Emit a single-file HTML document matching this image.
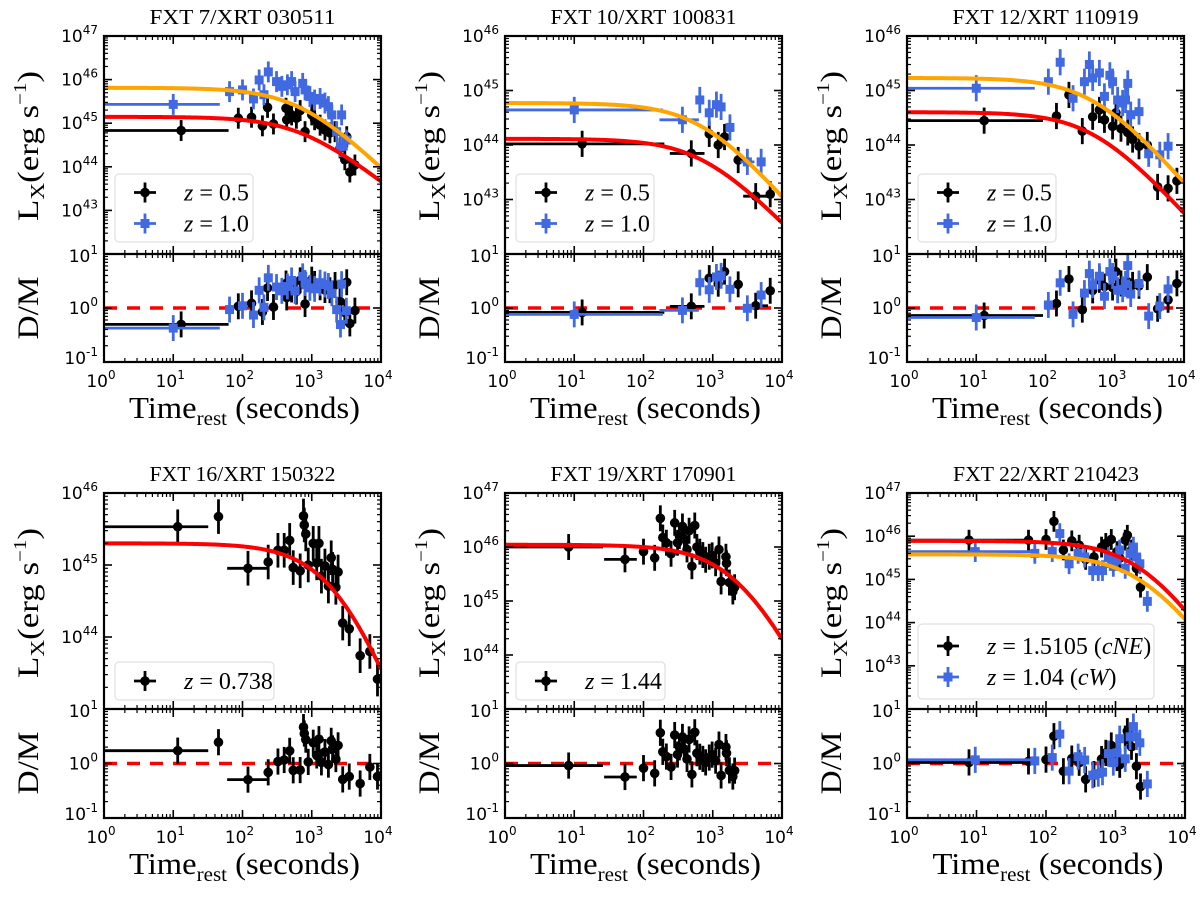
<!DOCTYPE html>
<html><head><meta charset="utf-8"><style>
html,body{margin:0;padding:0;background:#fff}
svg{display:block}
</style></head><body>
<svg id="fig" width="1200" height="901" viewBox="0 0 1200 901" xmlns="http://www.w3.org/2000/svg"></svg>
<script>
// ---------- data ----------
const xTickExp=[0,1,2,3,4];
const resTickExp=[1,0,-1];
const p1Title="FXT 7/XRT 030511";
const p1BlkT=[13,87,135,194,230,280,425,435,512,600,680,800,1000,1100,1320,1550,1830,2170,2560,3000,3550,4200,3200];
const p1BlkL=[6.8e44,1.3e45,1.37e45,8.7e44,2.3e45,9.6e44,2.2e45,1.2e45,1.55e45,1.3e45,1.95e45,6.4e44,1.55e45,1.2e45,9e44,7e44,6e44,6.4e44,2.7e44,1.45e44,7.6e43,1.1e44,4.9e44];
const p1BlkBars=[[0,1,63]];
const p1BluT=[10,65,100,144,174,236,204,310,370,445,512,575,740,800,940,1100,1320,1550,1740,1950,2290,2700,3160,2600];
const p1BluL=[2.7e45,5.3e45,5.8e45,3.6e45,9.8e45,1.5e46,4.5e45,9e45,7e45,7.6e45,9e45,5.3e45,8.2e45,5.8e45,4.1e45,3.4e45,3.7e45,2.9e45,2.4e45,1.55e45,6.4e44,1.55e45,4.1e44,2.9e44];
const p1BluBars=[[0,1,47]];

const p2Title="FXT 10/XRT 100831";
const p2BlkT=[13,490,890,1200,1480,2330,4170,6760];
const p2BlkL=[1.05e44,7e43,1.6e44,1e44,1.4e44,5.3e43,1.15e43,1.25e43];
const p2BlkBars=[[0,1,200],[1,240,760],[6,2750,6300]];
const p2BluT=[10,365,650,890,1130,1320,1770,3160,5000];
const p2BluL=[4.4e44,2.9e44,6.7e44,3.9e44,5.5e44,5e44,2.1e44,4.9e43,4.9e43];
const p2BluBars=[[0,1,190],[1,170,630],[7,2500,4000]];

const p3Title="FXT 12/XRT 110919";
const p3BlkT=[13,144,218,340,480,600,710,930,1040,1230,1540,1810,2240,2950,4160,5890,7900];
const p3BlkL=[2.8e44,3.4e44,8.3e44,1.8e44,3.3e44,4.4e44,2.9e44,2.2e44,3.9e44,2e44,1.7e44,1.26e44,9.5e43,1e44,1.7e43,1.6e43,2.2e43];
const p3BlkBars=[[0,1,92]];
const p3BluT=[10,110,163,250,365,430,480,600,710,850,930,1100,1300,1540,1430,1700,2240,3090,4470,5890];
const p3BluL=[1.1e45,1.45e45,3.3e45,7.2e44,1.45e45,3e45,1.7e45,2.1e45,7.8e44,1.9e45,1.45e45,6.7e44,5.9e44,1.35e45,6.7e44,3.6e44,4.1e44,6.9e43,6.6e43,9.5e43];
const p3BluBars=[[0,1,70]];

const p4Title="FXT 16/XRT 150322";
const p4BlkT=[11.6,45,120,235,325,400,480,540,680,760,780,820,890,1050,1180,1270,1380,1550,1740,1910,2000,2230,2400,2800,3480,5000,6900,8900];
const p4BlkL=[3.4e45,4.7e45,9e44,1.1e45,1.6e45,1.6e45,2.2e45,9.2e44,8.3e44,4.8e45,3.6e45,2.7e45,1e45,2e45,1.07e45,2e45,7e44,9.7e44,5.1e44,1.26e45,8.7e44,4.9e44,8e44,1.56e44,1.3e44,5.5e43,6.3e43,2.6e43];
const p4BlkBars=[[0,1,32],[2,60,240]];

const p5Title="FXT 19/XRT 170901";
const p5BlkT=[8.3,54,100,145,175,190,214,250,282,310,330,365,390,425,455,500,550,590,650,720,790,890,980,1100,1230,1320,1550,1580,1740,1950,2070];
const p5BlkL=[1e46,5.9e45,8.2e45,6.3e45,3.4e46,1.5e46,1.2e46,7.5e45,2.8e46,1.2e46,1.6e46,2.4e46,1.4e46,9e45,2e46,4.4e45,2.5e46,1e46,8.2e45,7.1e45,5.8e45,6.6e45,7e45,5e45,9e45,2.3e45,6.6e45,5e45,2.2e45,1.5e45,1.8e45];
const p5BlkBars=[[0,1,26],[1,27,80]];

const p6Title="FXT 22/XRT 210423";
const p6BlkT=[7.8,56,100,130,178,235,300,372,490,630,725,870,1050,1150,1380,1480,1700,2000,2290];
const p6BlkL=[8.1e45,8.1e45,8.4e45,2.2e46,4.8e45,7.8e45,6.2e45,2.9e45,3.3e45,5.6e45,6.8e45,8.4e45,4.4e45,3.1e45,8.1e45,1.05e46,4.8e45,1.8e45,6.6e44];
const p6BlkBars=[[0,1,50]];
const p6BluT=[9.6,69,123,158,215,290,360,470,565,650,790,930,1050,1150,1380,1620,1810,2000,2240,2870];
const p6BluL=[4.4e45,4e45,4.4e45,1.15e46,2.3e45,4e45,3.3e45,1.6e45,1.6e45,1.6e45,3.2e45,2e45,2.8e45,4.8e45,1.8e45,4e45,5.6e45,3.3e45,2.3e45,3.1e44];
const p6BluBars=[[0,1,60]];

// ---------- styles ----------
const BLACK="#000000", BLUE="#4169e1", RED="#ff0000", ORANGE="#ffa500";
const NS="http://www.w3.org/2000/svg";
const svg=document.getElementById('fig');
function mk(tag,attrs,parent){const e=document.createElementNS(NS,tag);for(const k in attrs)e.setAttribute(k,attrs[k]);(parent||svg).appendChild(e);return e;}

const panels=[
 {title:p1Title,x0:104,x1:381,yt:36,yb:254,rb:362,ymin:42,ymax:47,
  series:[{t:p1BlkT,L:p1BlkL,bars:p1BlkBars,color:BLACK,mk:'c',fit:{L0:1.4e45,tb:700,a:1.25,c:RED},label:'0.5'},
          {t:p1BluT,L:p1BluL,bars:p1BluBars,color:BLUE,mk:'s',fit:{L0:6.5e45,tb:700,a:1.55,c:ORANGE},label:'1.0'}],
  legend:{x:115,y:174,w:138,h:68}},
 {title:p2Title,x0:505,x1:782,yt:36,yb:254,rb:362,ymin:42,ymax:46,
  series:[{t:p2BlkT,L:p2BlkL,bars:p2BlkBars,color:BLACK,mk:'c',fit:{L0:1.3e44,tb:700,a:1.3,c:RED},label:'0.5'},
          {t:p2BluT,L:p2BluL,bars:p2BluBars,color:BLUE,mk:'s',fit:{L0:5.9e44,tb:700,a:1.45,c:ORANGE},label:'1.0'}],
  legend:{x:516,y:174,w:138,h:68}},
 {title:p3Title,x0:907,x1:1184,yt:36,yb:254,rb:362,ymin:42,ymax:46,
  series:[{t:p3BlkT,L:p3BlkL,bars:p3BlkBars,color:BLACK,mk:'c',fit:{L0:4e44,tb:500,a:1.4,c:RED},label:'0.5'},
          {t:p3BluT,L:p3BluL,bars:p3BluBars,color:BLUE,mk:'s',fit:{L0:1.7e45,tb:500,a:1.45,c:ORANGE},label:'1.0'}],
  legend:{x:918,y:174,w:138,h:68}},
 {title:p4Title,x0:104,x1:381,yt:493,yb:709,rb:818,ymin:43,ymax:46,
  series:[{t:p4BlkT,L:p4BlkL,bars:p4BlkBars,color:BLACK,mk:'c',fit:{L0:2e45,tb:2500,a:2.5,c:RED},label:'0.738'}],
  legend:{x:115,y:662,w:159,h:38}},
 {title:p5Title,x0:505,x1:782,yt:493,yb:709,rb:818,ymin:43,ymax:47,
  series:[{t:p5BlkT,L:p5BlkL,bars:p5BlkBars,color:BLACK,mk:'c',fit:{L0:1.1e46,tb:2500,a:2.5,c:RED},label:'1.44'}],
  legend:{x:516,y:662,w:149,h:38}},
 {title:p6Title,x0:907,x1:1185,yt:493,yb:709,rb:818,ymin:42,ymax:47,
  series:[{t:p6BlkT,L:p6BlkL,bars:p6BlkBars,color:BLACK,mk:'c',fit:{L0:7.8e45,tb:2500,a:2.3,c:RED},label:'1.5105',tag:'cNE'},
          {t:p6BluT,L:p6BluL,bars:p6BluBars,color:BLUE,mk:'s',fit:{L0:3.8e45,tb:2500,a:2.15,c:ORANGE},label:'1.04',tag:'cW'}],
  legend:{x:918,y:624,w:236,h:75}}
];

function model(f,t){return f.L0*Math.pow(1+t/f.tb,-f.a);}

panels.forEach((p,pi)=>{
 const g=mk('g',{});
 
 
 const xS=t=>p.x0+Math.log10(t)/4*(p.x1-p.x0);
 const yS=L=>p.yb-(Math.log10(L)-p.ymin)/(p.ymax-p.ymin)*(p.yb-p.yt);
 const rS=r=>p.rb-(Math.log10(r)+1)/2*(p.rb-p.yb);
 const W=p.x1-p.x0, cx=(p.x0+p.x1)/2;
 const cm=mk('clipPath',{id:'cm'+pi},g); mk('rect',{x:p.x0,y:p.yt,width:W,height:p.yb-p.yt},cm);
 const cr=mk('clipPath',{id:'cr'+pi},g); mk('rect',{x:p.x0,y:p.yb,width:W,height:p.rb-p.yb},cr);
 const ti=mk('text',{x:cx,y:p.yt-12,'text-anchor':'middle','font-family':'Liberation Serif, serif','font-size':21,textLength:186,lengthAdjust:'spacingAndGlyphs'},g);
 ti.textContent=p.title;
 
 
 const dl=mk('line',{x1:p.x0,x2:p.x1,y1:rS(1),y2:rS(1),stroke:RED,'stroke-width':3.5,'stroke-dasharray':'13 10'},g);
 
 
 const gm=mk('g',{'clip-path':'url(#cm'+pi+')'},g);
 const gr=mk('g',{'clip-path':'url(#cr'+pi+')'},g);
 p.series.forEach((s,si)=>{
  const sg=mk('g',{},gm);
  
  
  const rg=mk('g',{},gr);
  
  
  const e=0.24;
  s.t.forEach((t,i)=>{
   const L=s.L[i];
   let lo=t/1.1, hi=t*1.1;
   s.bars.forEach(b=>{if(b[0]===i){lo=b[1];hi=b[2];}});
   const r=L/model(s.fit,t);
   [[sg,yS,L],[rg,rS,r]].forEach(([G,Y,v])=>{
    const x=xS(t),y=Y(v);
    mk('line',{x1:xS(lo),x2:xS(hi),y1:y,y2:y,stroke:s.color,'stroke-width':2.8},G);
    mk('line',{x1:x,x2:x,y1:Y(v*Math.pow(10,e)),y2:Y(v/Math.pow(10,e)),stroke:s.color,'stroke-width':2.8},G);
    let m;
    if(s.mk==='c') m=mk('circle',{cx:x,cy:y,r:4.8,fill:s.color},G);
    else m=mk('rect',{x:x-4.5,y:y-4.5,width:9,height:9,fill:s.color},G);
    
    
   });
  });
 });
 p.series.forEach(s=>{
  let d='';
  for(let k=0;k<=200;k++){const t=Math.pow(10,k/50);d+=(k?'L':'M')+xS(t).toFixed(2)+' '+yS(model(s.fit,t)).toFixed(2);}
  const c=mk('path',{d:d,fill:'none',stroke:s.fit.c,'stroke-width':4},gm);
  
  
 });
 mk('rect',{x:p.x0,y:p.yt,width:W,height:p.rb-p.yt,fill:'none',stroke:'#000','stroke-width':2.2},g);
 mk('line',{x1:p.x0,x2:p.x1,y1:p.yb,y2:p.yb,stroke:'#000','stroke-width':2.2},g);
 const tk={stroke:'#000','stroke-width':1.2};
 for(let d=0;d<=4;d++){
  const x=xS(Math.pow(10,d));
  [[p.yt,1],[p.yb,-1],[p.yb,1],[p.rb,-1]].forEach(([y,s])=>mk('line',{x1:x,x2:x,y1:y,y2:y+s*8,'stroke-width':1.6,stroke:'#000'},g));
  if(d<4) for(let m=2;m<=9;m++){const xm=xS(m*Math.pow(10,d));
   [[p.yt,1],[p.yb,-1],[p.yb,1],[p.rb,-1]].forEach(([y,s])=>mk('line',Object.assign({x1:xm,x2:xm,y1:y,y2:y+s*4},tk),g));}
 }
 xTickExp.forEach(d=>{
  const tx=mk('text',{x:xS(Math.pow(10,d))-3,y:p.rb+25,'text-anchor':'middle','font-family':'DejaVu Sans, sans-serif','font-size':17},g);
  tx.innerHTML='10<tspan dy="-8" font-size="12">'+d+'</tspan>';
  
  
 });
 for(let d=p.ymin;d<=p.ymax;d++){
  const y=yS(Math.pow(10,d));
  mk('line',{x1:p.x0,x2:p.x0+8,y1:y,y2:y,stroke:'#000','stroke-width':1.6},g);
  mk('line',{x1:p.x1,x2:p.x1-8,y1:y,y2:y,stroke:'#000','stroke-width':1.6},g);
  if(d<p.ymax) for(let m=2;m<=9;m++){const ym=yS(m*Math.pow(10,d));
   mk('line',Object.assign({x1:p.x0,x2:p.x0+4,y1:ym,y2:ym},tk),g);
   mk('line',Object.assign({x1:p.x1,x2:p.x1-4,y1:ym,y2:ym},tk),g);}
  if(d>p.ymin){
   const ty=mk('text',{x:p.x0-6,y:y+6,'text-anchor':'end','font-family':'DejaVu Sans, sans-serif','font-size':17},g);
   ty.innerHTML='10<tspan dy="-8" font-size="12">'+d+'</tspan>';
   
   
  }
 }
 for(let d=-1;d<=1;d++){
  const y=rS(Math.pow(10,d));
  mk('line',{x1:p.x0,x2:p.x0+8,y1:y,y2:y,stroke:'#000','stroke-width':1.6},g);
  mk('line',{x1:p.x1,x2:p.x1-8,y1:y,y2:y,stroke:'#000','stroke-width':1.6},g);
  if(d<1) for(let m=2;m<=9;m++){const ym=rS(m*Math.pow(10,d));
   mk('line',Object.assign({x1:p.x0,x2:p.x0+4,y1:ym,y2:ym},tk),g);
   mk('line',Object.assign({x1:p.x1,x2:p.x1-4,y1:ym,y2:ym},tk),g);}
 }
 resTickExp.forEach(d=>{
  const y=rS(Math.pow(10,d));
  const ty=mk('text',{x:p.x0-6,y:y+(d===1?8:d===-1?2:6),'text-anchor':'end','font-family':'DejaVu Sans, sans-serif','font-size':17},g);
  ty.innerHTML='10<tspan dy="-8" font-size="12">'+d+'</tspan>';
  
  
 });
 const my=p.yt+110;
 const yl=mk('text',{x:0,y:0,transform:'translate('+(p.x0-66)+','+my+') rotate(-90)','text-anchor':'middle','font-family':'Liberation Serif, serif','font-size':30,textLength:150,lengthAdjust:'spacingAndGlyphs'},g);
 yl.innerHTML='L<tspan font-size="20" dy="6">X</tspan><tspan dy="-6">(erg s</tspan><tspan font-size="18" dy="-12">−1</tspan><tspan dy="12">)</tspan>';
 
 
 const dm=mk('text',{x:0,y:0,transform:'translate('+(p.x0-66)+','+(p.yb+54)+') rotate(-90)','text-anchor':'middle','font-family':'Liberation Serif, serif','font-size':30,textLength:63,lengthAdjust:'spacingAndGlyphs'},g);
 dm.textContent='D/M';
 
 
 const xl=mk('text',{x:cx+2,y:p.rb+56,'text-anchor':'middle','font-family':'Liberation Serif, serif','font-size':31,textLength:231,lengthAdjust:'spacingAndGlyphs'},g);
 xl.innerHTML='Time<tspan font-size="20" dy="7">rest</tspan><tspan dy="-7"> (seconds)</tspan>';
 
 
 const lg=p.legend;
 const lgG=mk('g',{},g);
 
 
 mk('rect',{x:lg.x,y:lg.y,width:lg.w,height:lg.h,rx:4,fill:'#fff','fill-opacity':0.85,stroke:'#d8d8d8','stroke-width':1},lgG);
 const n=p.series.length, rowH=n===1?0:31;
 p.series.forEach((s,si)=>{
  const ry=lg.y+lg.h/2+(si-(n-1)/2)*rowH;
  const mx=lg.x+30;
  const eg=mk('g',{},lgG);
  
  
  mk('line',{x1:mx-11,x2:mx+11,y1:ry,y2:ry,stroke:s.color,'stroke-width':2.8},eg);
  mk('line',{x1:mx,x2:mx,y1:ry-10,y2:ry+10,stroke:s.color,'stroke-width':2.8},eg);
  if(s.mk==='c') mk('circle',{cx:mx,cy:ry,r:4.8,fill:s.color},eg);
  else mk('rect',{x:mx-4.5,y:ry-4.5,width:9,height:9,fill:s.color},eg);
  const lt=mk('text',{x:lg.x+69,y:ry+8,'font-family':'Liberation Serif, serif','font-size':24},eg);
  lt.innerHTML='<tspan font-style="italic">z</tspan> = '+s.label+(s.tag?' (<tspan font-style="italic">'+s.tag+'</tspan>)':'');
 });
});
</script>
</body></html>
